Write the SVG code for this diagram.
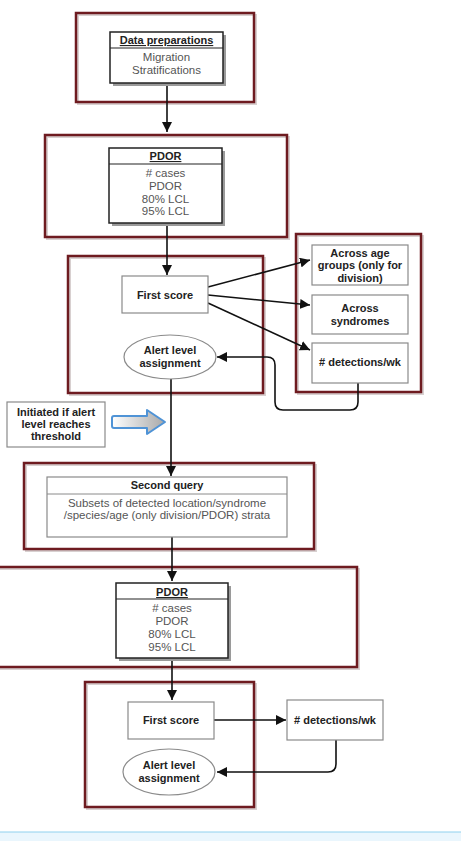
<svg xmlns="http://www.w3.org/2000/svg" width="461" height="841" viewBox="0 0 461 841">
<defs>
<marker id="ah" viewBox="0 0 10 10" refX="10" refY="5" markerWidth="10" markerHeight="10" markerUnits="userSpaceOnUse" orient="auto">
<path d="M0,0 L10,5 L0,10 z" fill="#111"/>
</marker>
<linearGradient id="bg" x1="0" y1="0" x2="1" y2="0">
<stop offset="0" stop-color="#ffffff"/>
<stop offset="1" stop-color="#a8a8a8"/>
</linearGradient>
<style>
.frame{fill:none;stroke:#6e1b20;stroke-width:2.5}
.fshadow{fill:none;stroke:#d8d0d0;stroke-width:2}
.box{fill:#fff;stroke:#222;stroke-width:1.5}
.shadow{fill:#9a9a9a}
.gbox{fill:#fff;stroke:#8a8a8a;stroke-width:1.2}
.hl{stroke:#222;stroke-width:1.2}
.ghl{stroke:#8a8a8a;stroke-width:1}
.b{font-family:"Liberation Sans",Arial,sans-serif;font-weight:bold;font-size:11px;fill:#222;text-anchor:middle}
.r{font-family:"Liberation Sans",Arial,sans-serif;font-size:11.5px;fill:#555;text-anchor:middle}
.u{text-decoration:underline}
.c{fill:none;stroke:#111;stroke-width:1.6}
</style>
</defs>
<rect width="461" height="841" fill="#fff"/>

<g id="frames">
<rect class="fshadow" x="78" y="15" width="178" height="89"/>
<rect class="frame" x="76" y="13" width="178" height="89"/>
<rect class="fshadow" x="47" y="137" width="242" height="102"/>
<rect class="frame" x="45" y="135" width="242" height="102"/>
<rect class="fshadow" x="70" y="258" width="195" height="137"/>
<rect class="frame" x="68" y="256" width="195" height="137"/>
<rect class="fshadow" x="298" y="236" width="125" height="158"/>
<rect class="frame" x="296" y="234" width="125" height="158"/>
<rect class="fshadow" x="26" y="465" width="290" height="86"/>
<rect class="frame" x="24" y="463" width="290" height="86"/>
<rect class="fshadow" x="-3" y="569" width="362" height="100"/>
<rect class="frame" x="-5" y="567" width="362" height="100"/>
<rect class="fshadow" x="87" y="684" width="169" height="125"/>
<rect class="frame" x="85" y="682" width="169" height="125"/>
</g>

<g id="connectors">
<path class="c" d="M167,83 V132" marker-end="url(#ah)"/>
<path class="c" d="M167,223 V275" marker-end="url(#ah)"/>
<path class="c" d="M208,287 L310,260" marker-end="url(#ah)"/>
<path class="c" d="M208,295 L310,305" marker-end="url(#ah)"/>
<path class="c" d="M208,303 L310,350" marker-end="url(#ah)"/>
<path class="c" d="M358,383 V402 Q358,410 350,410 H283 Q275,410 275,402 V365 Q275,357 267,357 H217" marker-end="url(#ah)"/>
<path class="c" d="M171,379 V476" marker-end="url(#ah)"/>
<path class="c" d="M172,537 V581" marker-end="url(#ah)"/>
<path class="c" d="M172,658 V700" marker-end="url(#ah)"/>
<path class="c" d="M214,720 H286" marker-end="url(#ah)"/>
<path class="c" d="M336,740 V764 Q336,772 328,772 H217" marker-end="url(#ah)"/>
</g>

<g id="data-preparations">
<rect class="shadow" x="113" y="35" width="113" height="51"/>
<rect class="box" x="110" y="32" width="113" height="51"/>
<line class="hl" x1="110" y1="48" x2="223" y2="48"/>
<text class="b u" x="166.5" y="44">Data preparations</text>
<text class="r" x="166.5" y="61">Migration</text>
<text class="r" x="166.5" y="74">Stratifications</text>
</g>

<g id="pdor-1">
<rect class="shadow" x="112" y="151" width="113" height="75"/>
<rect class="box" x="109" y="148" width="113" height="75"/>
<line class="hl" x1="109" y1="164" x2="222" y2="164"/>
<text class="b u" x="165.5" y="160">PDOR</text>
<text class="r" x="165.5" y="177"># cases</text>
<text class="r" x="165.5" y="190">PDOR</text>
<text class="r" x="165.5" y="203">80% LCL</text>
<text class="r" x="165.5" y="215">95% LCL</text>
</g>

<g id="first-score-1">
<rect class="gbox" x="122" y="276" width="86" height="37"/>
<text class="b" x="165" y="298.5">First score</text>
</g>

<g id="alert-1">
<ellipse class="gbox" cx="170" cy="357" rx="46" ry="22"/>
<text class="b" x="170" y="354">Alert level</text>
<text class="b" x="170" y="367">assignment</text>
</g>

<g id="across-age">
<rect class="gbox" x="312" y="245" width="96" height="40"/>
<text class="b" x="360" y="257">Across age</text>
<text class="b" x="360" y="269">groups (only for</text>
<text class="b" x="360" y="282">division)</text>
</g>

<g id="across-syndromes">
<rect class="gbox" x="312" y="295" width="96" height="39"/>
<text class="b" x="360" y="312">Across</text>
<text class="b" x="360" y="325">syndromes</text>
</g>

<g id="detections-1">
<rect class="gbox" x="312" y="343" width="96" height="40"/>
<text class="b" x="360" y="366"># detections/wk</text>
</g>

<g id="initiated">
<rect class="gbox" x="7" y="402" width="98" height="45"/>
<text class="b" x="56" y="416">Initiated if alert</text>
<text class="b" x="56" y="428">level reaches</text>
<text class="b" x="56" y="440">threshold</text>
</g>

<g id="blue-arrow">
<path d="M114,416 H147 V410 L165,422 L147,434 V428 H114 Q112,428 112,426 V418 Q112,416 114,416 z" fill="url(#bg)" stroke="#4f93d6" stroke-width="2" stroke-linejoin="round"/>
</g>

<g id="second-query">
<rect class="gbox" x="47" y="477" width="240" height="60"/>
<line class="ghl" x1="47" y1="494" x2="287" y2="494"/>
<text class="b" x="167" y="489">Second query</text>
<text class="r" x="167" y="507">Subsets of detected location/syndrome</text>
<text class="r" x="167" y="519">/species/age (only division/PDOR) strata</text>
</g>

<g id="pdor-2">
<rect class="shadow" x="119" y="586" width="112" height="75"/>
<rect class="box" x="116" y="583" width="112" height="75"/>
<line class="hl" x1="116" y1="599" x2="228" y2="599"/>
<text class="b u" x="172" y="596">PDOR</text>
<text class="r" x="172" y="612"># cases</text>
<text class="r" x="172" y="625">PDOR</text>
<text class="r" x="172" y="638">80% LCL</text>
<text class="r" x="172" y="651">95% LCL</text>
</g>

<g id="first-score-2">
<rect class="gbox" x="128" y="702" width="86" height="37"/>
<text class="b" x="171" y="724">First score</text>
</g>

<g id="detections-2">
<rect class="gbox" x="287" y="700" width="96" height="40"/>
<text class="b" x="335" y="724"># detections/wk</text>
</g>

<g id="alert-2">
<ellipse class="gbox" cx="169" cy="772" rx="46" ry="23"/>
<text class="b" x="169" y="769">Alert level</text>
<text class="b" x="169" y="782">assignment</text>
</g>

<g id="footer">
<rect x="0" y="832" width="461" height="9" fill="#eaf6fd"/>
<line x1="0" y1="832" x2="461" y2="832" stroke="#8fd0ee" stroke-width="1"/>
</g>
</svg>
